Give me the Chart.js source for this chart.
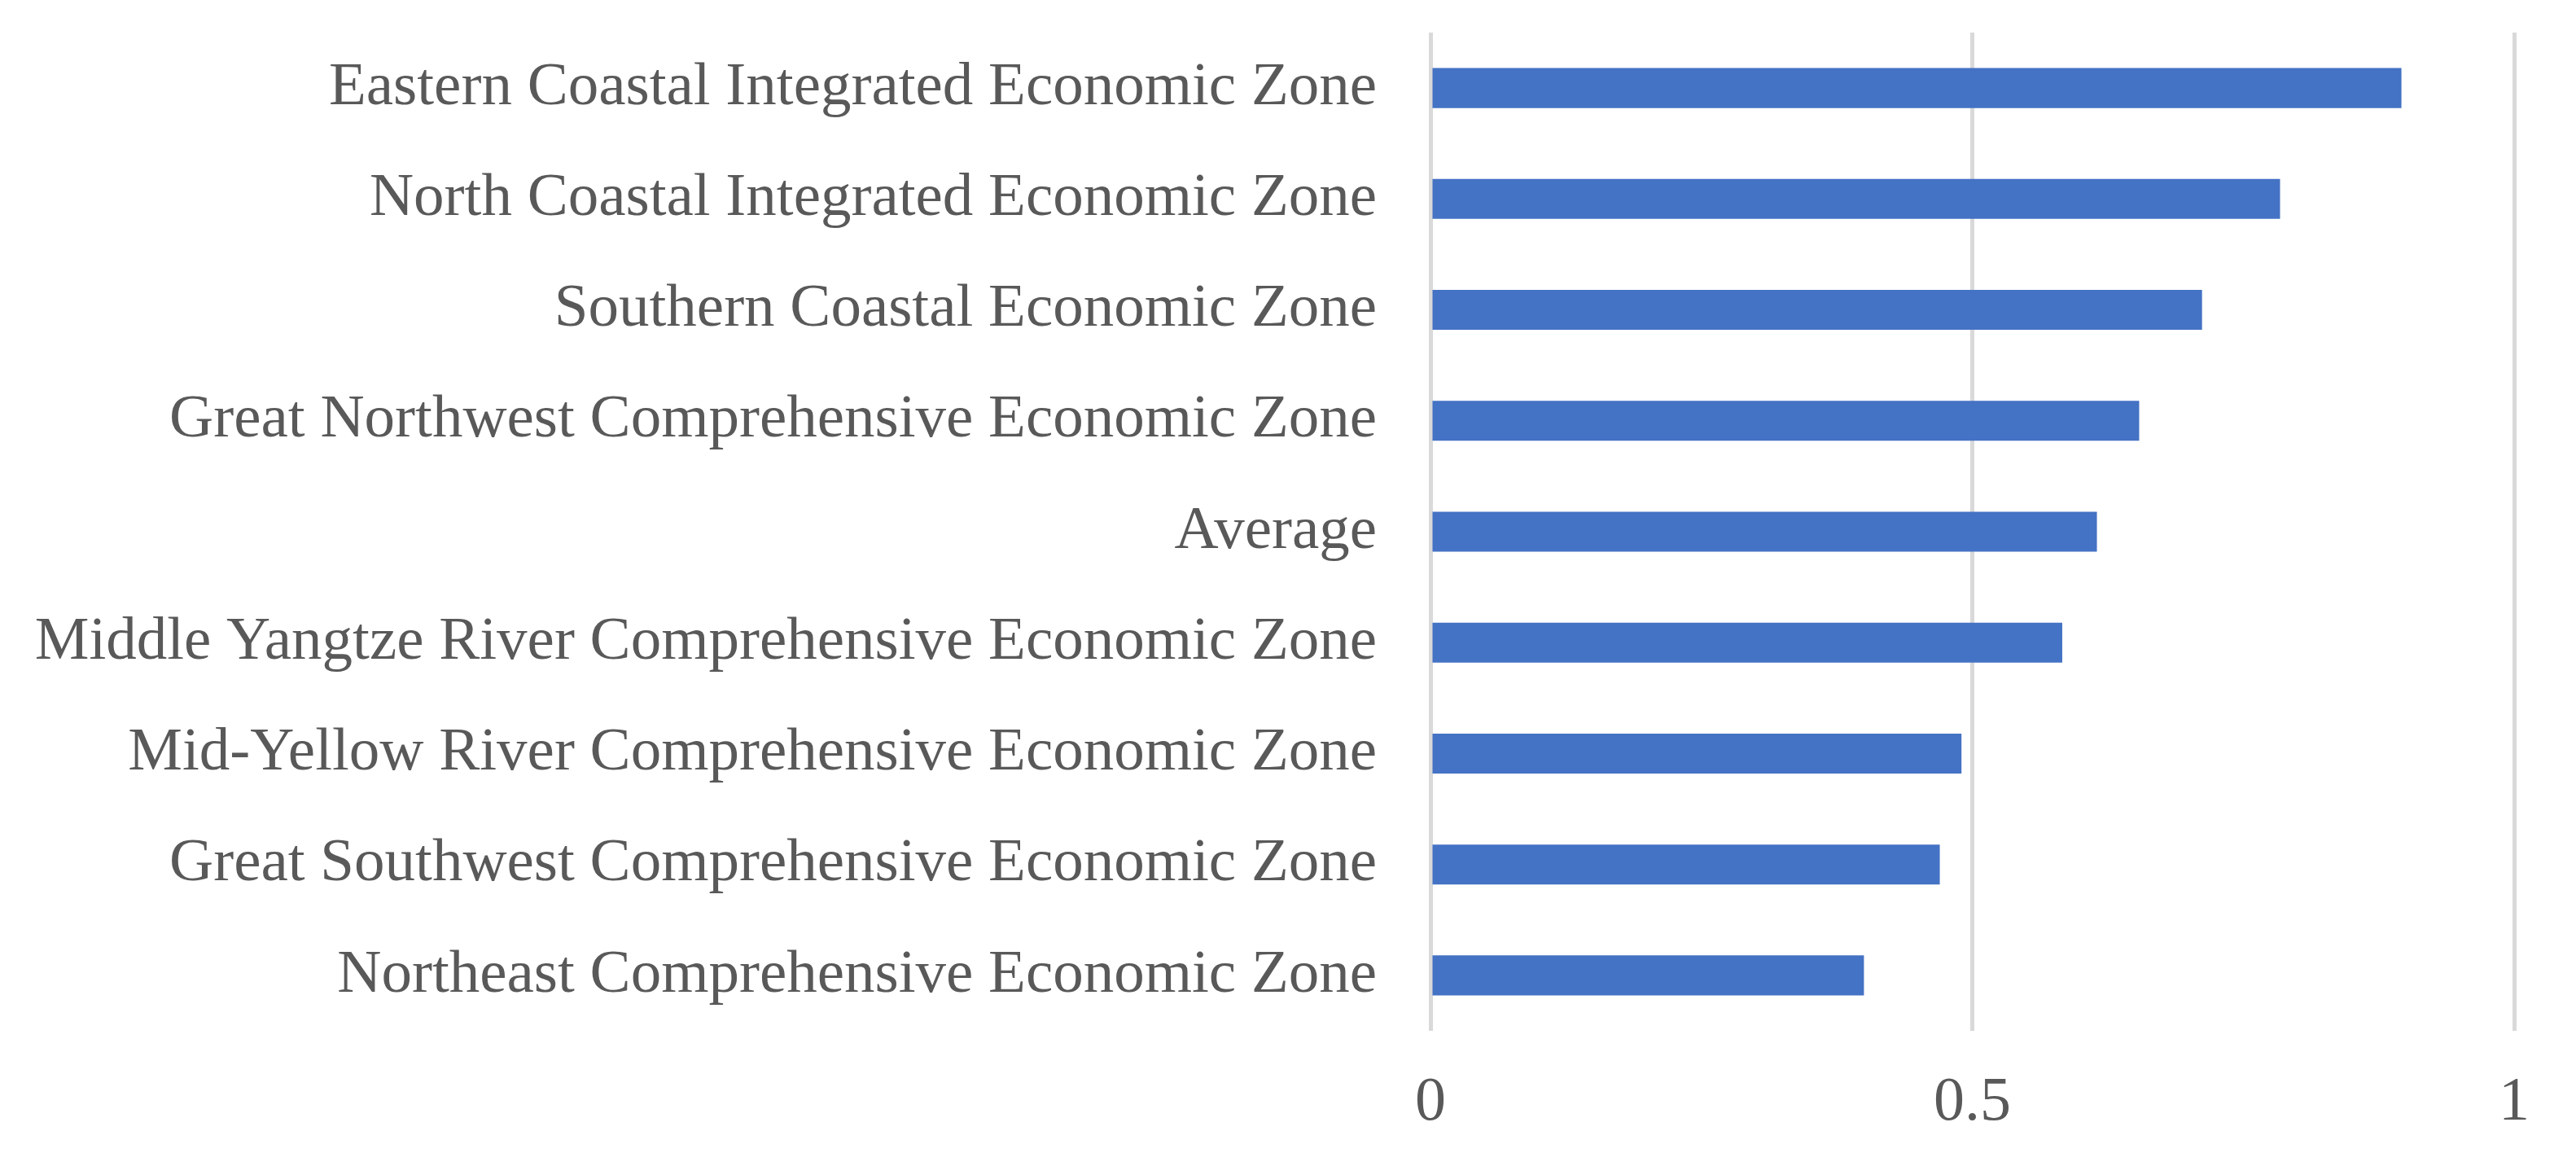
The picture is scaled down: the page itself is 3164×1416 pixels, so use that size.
<!DOCTYPE html>
<html>
<head>
<meta charset="utf-8">
<script src="https://cdn.jsdelivr.net/npm/chart.js@4/dist/chart.umd.min.js"></script>
<style>
  html, body { margin: 0; padding: 0; background: #fff; }
  canvas { display: block; }
</style>
</head>
<body>
<canvas id="myChart" width="3164" height="1416"></canvas>
<script>
// categories, top to bottom
const zones = [
    'Eastern Coastal Integrated Economic Zone',
    'North Coastal Integrated Economic Zone',
    'Southern Coastal Economic Zone',
    'Great Northwest Comprehensive Economic Zone',
    'Average',
    'Middle Yangtze River Comprehensive Economic Zone',
    'Mid-Yellow River Comprehensive Economic Zone',
    'Great Southwest Comprehensive Economic Zone',
    'Northeast Comprehensive Economic Zone'
];
const scores = [0.896, 0.784, 0.712, 0.654, 0.615, 0.583, 0.490, 0.470, 0.400];
const xTicks = [0, 0.5, 1];

const textColor = '#595959';
const fontFamily = '"Liberation Serif", "Times New Roman", serif';

let ctx = document.getElementById('myChart');
var chart = new Chart(ctx, {
    type: 'bar',
    data: {
        labels: zones,
        datasets: [{
            data: scores,
            backgroundColor: '#4472C4',
            borderWidth: 0,
            categoryPercentage: 1,
            barPercentage: 0.36
        }]
    },
    options: {
        indexAxis: 'y',
        responsive: false,
        animation: false,
        devicePixelRatio: 1,
        layout: {
            padding: { top: 40, right: 76, left: 0, bottom: 0 }
        },
        plugins: {
            legend: { display: false },
            tooltip: { enabled: false }
        },
        scales: {
            x: {
                min: 0,
                max: 1,
                afterBuildTicks: (scale) => {
                    scale.ticks = xTicks.map(v => ({ value: v }));
                },
                afterFit: (scale) => {
                    scale.height = 150;
                    scale.paddingLeft = 0;
                    scale.paddingRight = 0;
                },
                grid: { color: '#d9d9d9', lineWidth: 5, drawTicks: false },
                border: { display: false },
                ticks: {
                    color: textColor,
                    padding: 43,
                    font: { family: fontFamily, size: 76 },
                    callback: (v) => String(v)
                }
            },
            y: {
                afterFit: (scale) => {
                    scale.width = 1757;
                    scale.paddingTop = 0;
                    scale.paddingBottom = 0;
                },
                grid: { display: false, drawTicks: false },
                border: { display: false },
                ticks: {
                    color: textColor,
                    padding: 66,
                    autoSkip: false,
                    font: { family: fontFamily, size: 75 }
                }
            }
        }
    }
});
</script>
</body>
</html>
